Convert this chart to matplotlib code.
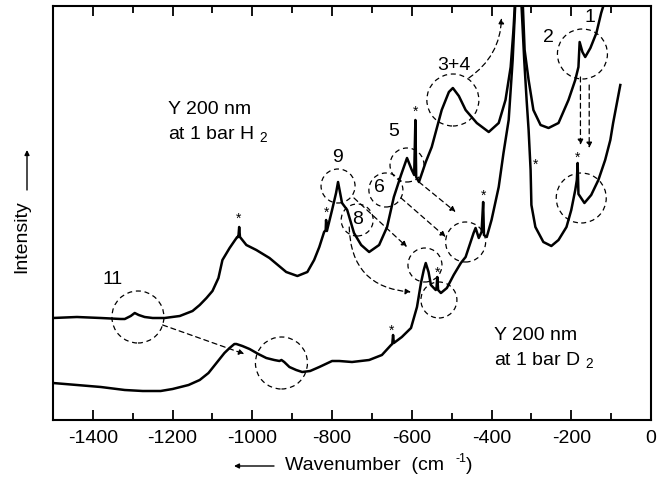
import matplotlib
matplotlib.use("Agg")
import matplotlib.pyplot as plt
from matplotlib.patches import Ellipse

plt.rcParams["font.family"] = ["Liberation Sans", "DejaVu Sans"]
plt.rcParams["mathtext.default"] = "regular"
plt.rcParams["axes.unicode_minus"] = False

# upper trace: Y film under 1 bar H2
h2_wn = [-1500, -1440, -1380, -1330, -1320, -1305, -1295, -1285, -1270, -1250, -1220,
         -1182, -1150, -1132, -1115, -1100, -1085, -1075, -1057, -1045, -1038, -1035,
         -1033, -1031, -1015, -990, -957, -915, -887, -862, -845, -832, -820, -816,
         -815, -813, -808, -800, -790, -785, -775, -762, -745, -727, -707, -682, -662,
         -645, -627, -612, -600, -594, -591, -589, -582, -565, -550, -525, -507, -497,
         -482, -465, -437, -407, -382, -365, -352, -345, -338, -332, -327, -322, -317,
         -307, -295, -277, -257, -232, -207, -190, -182, -179, -172, -165, -152, -137,
         -125, -115, -105]
h2_int = [102, 103, 102, 101, 101, 104, 107, 105, 103, 102, 102,
          104, 109, 115, 122, 129, 142, 160, 172, 179, 183, 183,
          193, 183, 175, 170, 162, 148, 144, 148, 160, 173, 188, 190,
          200, 189, 197, 210, 227, 238, 217, 210, 187, 175, 168, 175, 193,
          223, 245, 262, 250, 245, 300, 243, 238, 258, 273, 310, 328, 332,
          324, 310, 297, 288, 297, 320, 353, 390, 440, 500, 440, 420, 370,
          340, 310, 295, 292, 297, 320, 340, 353, 378, 368, 363, 372, 387,
          407, 420, 445]

# lower trace: Y film under 1 bar D2
d2_wn = [-1500, -1440, -1380, -1320, -1275, -1230, -1200, -1160, -1132, -1110, -1090,
         -1070, -1057, -1045, -1040, -1025, -1007, -985, -965, -945, -932, -927, -920,
         -907, -890, -875, -855, -832, -800, -782, -750, -707, -675, -652, -649, -647,
         -645, -625, -602, -587, -577, -570, -565, -558, -552, -540, -538, -536, -534,
         -527, -512, -495, -477, -465, -445, -440, -432, -425, -421, -419, -412, -400,
         -382, -370, -357, -347, -340, -334, -328, -318, -312, -307, -302, -300, -290,
         -270, -250, -232, -212, -200, -190, -186, -184, -182, -177, -167, -150, -132,
         -115, -102, -95, -77]
d2_int = [37, 35, 33, 30, 29, 29, 31, 35, 40, 47, 57,
          67, 72, 76, 76, 74, 71, 66, 62, 60, 59, 60, 58,
          53, 50, 48, 49, 53, 59, 59, 58, 60, 65, 75, 76, 85,
          77, 83, 92, 113, 137, 150, 157, 148, 135, 130, 132, 143, 130,
          127, 132, 145, 157, 163, 187, 192, 182, 188, 218, 185, 183, 200,
          233, 267, 300, 360, 420, 500, 440, 360, 320, 290, 250, 215, 193,
          178, 174, 180, 193, 210, 230, 240, 257, 226, 223, 217, 225, 240,
          260, 280, 297, 335]

# numbered bands
band_labels = ["11", "9", "8", "6", "5", "3+4", "2", "1"]
band_wn = [-1350, -787, -735, -680, -645, -495, -257, -152]
band_int = [140, 263, 200, 232, 288, 355, 382, 402]

# sharp lines marked with *
star_wn = [-1035, -815, -590, -650, -535, -420, -290, -185]
star_int = [201, 207, 308, 89, 147, 224, 255, 262]

# dashed circles: centre and radius (px)
circ_wn = [-1287, -927, -785, -737, -665, -612, -497, -172, -175, -465, -567, -532]
circ_int = [103, 57, 234, 200, 230, 255, 320, 366, 222, 178, 155, 120]
circ_r = [26, 26, 17, 16, 17, 17, 26, 25, 25, 20, 17, 18]

# dashed arrows: start, end, curvature
arr_wn0 = [-1225, -457, -177, -155, -582, -627, -745, -757]
arr_int0 = [95, 342, 343, 335, 238, 222, 222, 193]
arr_wn1 = [-1020, -375, -177, -155, -490, -515, -612, -602]
arr_int1 = [66, 402, 275, 272, 208, 183, 173, 128]
arr_rad = [0.0, 0.25, 0.0, 0.0, 0.0, 0.0, 0.0, 0.45]

W, H = 665, 483
fig = plt.figure(figsize=(W / 100, H / 100), dpi=100)
ax = fig.add_axes([53 / W, 1 - 420 / H, 598 / W, 414 / H])

ax.plot(h2_wn, h2_int, color="black", lw=1.8)
ax.plot(d2_wn, d2_int, color="black", lw=1.8)

ax.set_xlim(-1500, 0)
ax.set_ylim(0, 414)
xu = 1500 / 598  # data units per pixel in x
dash = (0, (4, 3))

for cx, cy, r in zip(circ_wn, circ_int, circ_r):
    ax.add_patch(Ellipse((cx, cy), 2 * r * xu, 2 * r, fill=False, ls=dash,
                         lw=0.9, color="black"))

for x0, y0, x1, y1, rad in zip(arr_wn0, arr_int0, arr_wn1, arr_int1, arr_rad):
    ax.annotate("", xy=(x1, y1), xytext=(x0, y0),
                arrowprops=dict(arrowstyle="-|>", ls=dash, lw=0.9, color="black",
                                mutation_scale=8, shrinkA=0, shrinkB=0,
                                connectionstyle=f"arc3,rad={rad}"))

for lab, x, y in zip(band_labels, band_wn, band_int):
    ax.text(x, y, lab, fontsize=14, ha="center", va="center")

for x, y in zip(star_wn, star_int):
    ax.text(x, y, "*", fontsize=10, ha="center", va="center")

ax.text(-1212, 298, "Y 200 nm\nat 1 bar H $_2$", fontsize=14, ha="left", va="center",
        linespacing=1.4)
ax.text(-395, 72, "Y 200 nm\nat 1 bar D $_2$", fontsize=14, ha="left", va="center",
        linespacing=1.4)

ax.set_xticks(range(-1400, 1, 200))
ax.set_xticks(range(-1500, 1, 100), minor=True)
ax.set_yticks([])
ax.tick_params(axis="x", which="both", direction="in", top=True, width=1.3,
               labelsize=14, pad=7)
ax.tick_params(axis="x", which="major", length=7)
ax.tick_params(axis="x", which="minor", length=5)
for s in ax.spines.values():
    s.set_linewidth(1.5)

# axis captions with arrows
fig.text(22 / W, 1 - 237 / H, "Intensity", rotation=90, ha="center", va="center",
         fontsize=14)
fig.text(285 / W, 1 - 466 / H, "Wavenumber  (cm", ha="left", va="center",
         fontsize=14)
fig.text(455 / W, 1 - 459 / H, "-1", ha="left", va="center", fontsize=9)
fig.text(466 / W, 1 - 466 / H, ")", ha="left", va="center", fontsize=14)
arrow = dict(arrowstyle="-|>", lw=1.0, color="black", mutation_scale=7,
             shrinkA=0, shrinkB=0)
ax.annotate("", xy=(27, H - 150), xytext=(27, H - 190), xycoords="figure pixels",
            textcoords="figure pixels", arrowprops=arrow)
ax.annotate("", xy=(234, H - 466), xytext=(274, H - 466), xycoords="figure pixels",
            textcoords="figure pixels", arrowprops=arrow)

fig.savefig("out.png", dpi=100)
